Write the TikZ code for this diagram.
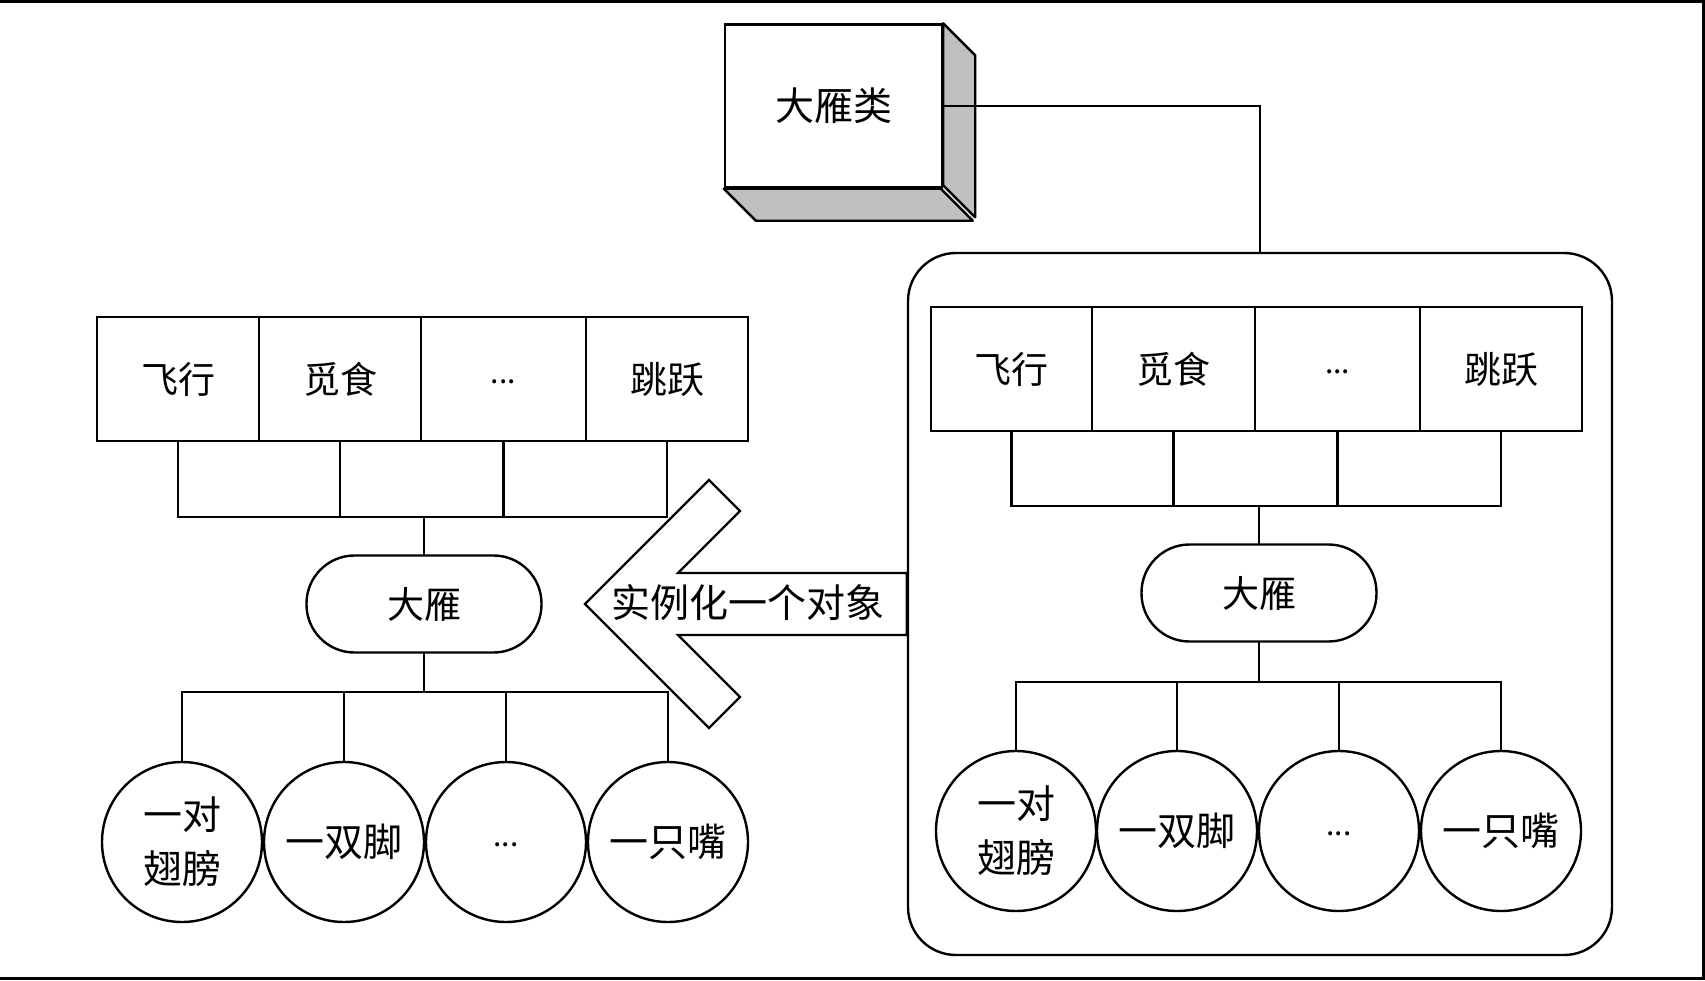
\documentclass[tikz,border=0pt]{standalone}
\usepackage{fontspec}
\setmainfont{Liberation Serif}
\newfontfamily\cjk{Noto Sans CJK SC}
\definecolor{shade}{HTML}{C0C0C0}
\newcommand{\lowdots}{\raisebox{-4pt}[0pt][0pt]{\fontsize{30}{36}\selectfont ...}}
\tikzset{
  ln/.style={line width=2.4pt},
  cell/.style={ln, draw, minimum height=124pt, inner sep=0pt, font=\cjk\fontsize{37}{44}\selectfont},
  capsule/.style={ln, draw, rounded corners=48pt, minimum width=235pt, minimum height=97pt, inner sep=0pt, font=\cjk\fontsize{37}{44}\selectfont},
  part/.style={ln, draw, circle, minimum size=160pt, inner sep=0pt, align=center, font=\cjk\fontsize{39}{54}\selectfont},
  wire/.style={line width=2.2pt, line cap=rect},
}
\begin{document}
\begin{tikzpicture}[x=1pt,y=-1pt]
\useasboundingbox (0,0) rectangle (1705,980);
% outer frame lines
\draw[line width=3pt] (0,1.5) -- (1703.5,1.5) -- (1703.5,978.5) -- (0,978.5);

% class box
\node[ln, draw, fill=white, minimum width=217pt, minimum height=163pt, inner sep=0pt, font=\cjk\fontsize{39}{46}\selectfont] (cls) at (833.5,106) {大雁类};
\filldraw[ln, fill=shade, line join=round] (cls.north east) -- ++(32,32) -- ++(0,162) -- ++(-32,-32) -- cycle;
\filldraw[ln, fill=shade, line join=round] (cls.south west) -- ++(32,32) -- ++(217,0) -- ++(-32,-32) -- cycle;

% right container
\node[ln, draw, rounded corners=48pt, minimum width=704pt, minimum height=702pt, inner sep=0pt] (rr) at (1260,604) {};
\draw[wire] (cls.east) -| (rr.north);

% ---------- right object ----------
\node[cell, minimum width=161pt] (r1) at (1011.5,369) {飞行};
\node[cell, minimum width=163pt] (r2) at (1173.5,369) {觅食};
\node[cell, minimum width=165pt] (r3) at (1337.5,369) {\lowdots};
\node[cell, minimum width=162pt] (r4) at (1501,369) {跳跃};
\node[capsule] (rc) at (1259,593) {大雁};
\coordinate (rb) at (1259,506);
\coordinate (rl) at (1259,682);
\draw[wire] (r1.south) -- (r1.south |- rb) -- (r4.south |- rb) -- (r4.south);
\draw[wire] (r2.south) -- (r2.south |- rb);
\draw[wire] (r3.south) -- (r3.south |- rb);
\draw[wire] (rb) -- (rc.north);
\node[part] (rp1) at (1016,831) {一对\\翅膀};
\node[part] (rp2) at (1177,831) {一双脚};
\node[part] (rp3) at (1339,831) {\lowdots};
\node[part] (rp4) at (1501,831) {一只嘴};
\draw[wire] (rc.south) -- (rl);
\draw[wire] (rp1.north) -- (rp1.north |- rl) -- (rp4.north |- rl) -- (rp4.north);
\draw[wire] (rp2.north) -- (rp2.north |- rl);
\draw[wire] (rp3.north) -- (rp3.north |- rl);

% ---------- left object ----------
\node[cell, minimum width=162pt] (l1) at (178,379) {飞行};
\node[cell, minimum width=162pt] (l2) at (340,379) {觅食};
\node[cell, minimum width=165pt] (l3) at (503.5,379) {\lowdots};
\node[cell, minimum width=162pt] (l4) at (667,379) {跳跃};
\node[capsule] (lc) at (424,604) {大雁};
\coordinate (lb) at (424,517);
\coordinate (ll) at (424,692);
\draw[wire] (l1.south) -- (l1.south |- lb) -- (l4.south |- lb) -- (l4.south);
\draw[wire] (l2.south) -- (l2.south |- lb);
\draw[wire] (l3.south) -- (l3.south |- lb);
\draw[wire] (lb) -- (lc.north);
\node[part] (lp1) at (182,842) {一对\\翅膀};
\node[part] (lp2) at (344,842) {一双脚};
\node[part] (lp3) at (506,842) {\lowdots};
\node[part] (lp4) at (668,842) {一只嘴};
\draw[wire] (lc.south) -- (ll);
\draw[wire] (lp1.north) -- (lp1.north |- ll) -- (lp4.north |- ll) -- (lp4.north);
\draw[wire] (lp2.north) -- (lp2.north |- ll);
\draw[wire] (lp3.north) -- (lp3.north |- ll);

% ---------- instantiate arrow ----------
\draw[ln, line join=miter] (585,604) -- (709,480) -- (740,511) -- (678,573) -- (rr.west |- 0,573)
  -- (rr.west |- 0,635) -- (678,635) -- (740,697) -- (709,728) -- cycle;
\node[font=\cjk\fontsize{39}{46}\selectfont, inner sep=0pt] (lbl) at (748,603) {实例化一个对象};
\end{tikzpicture}
\end{document}
